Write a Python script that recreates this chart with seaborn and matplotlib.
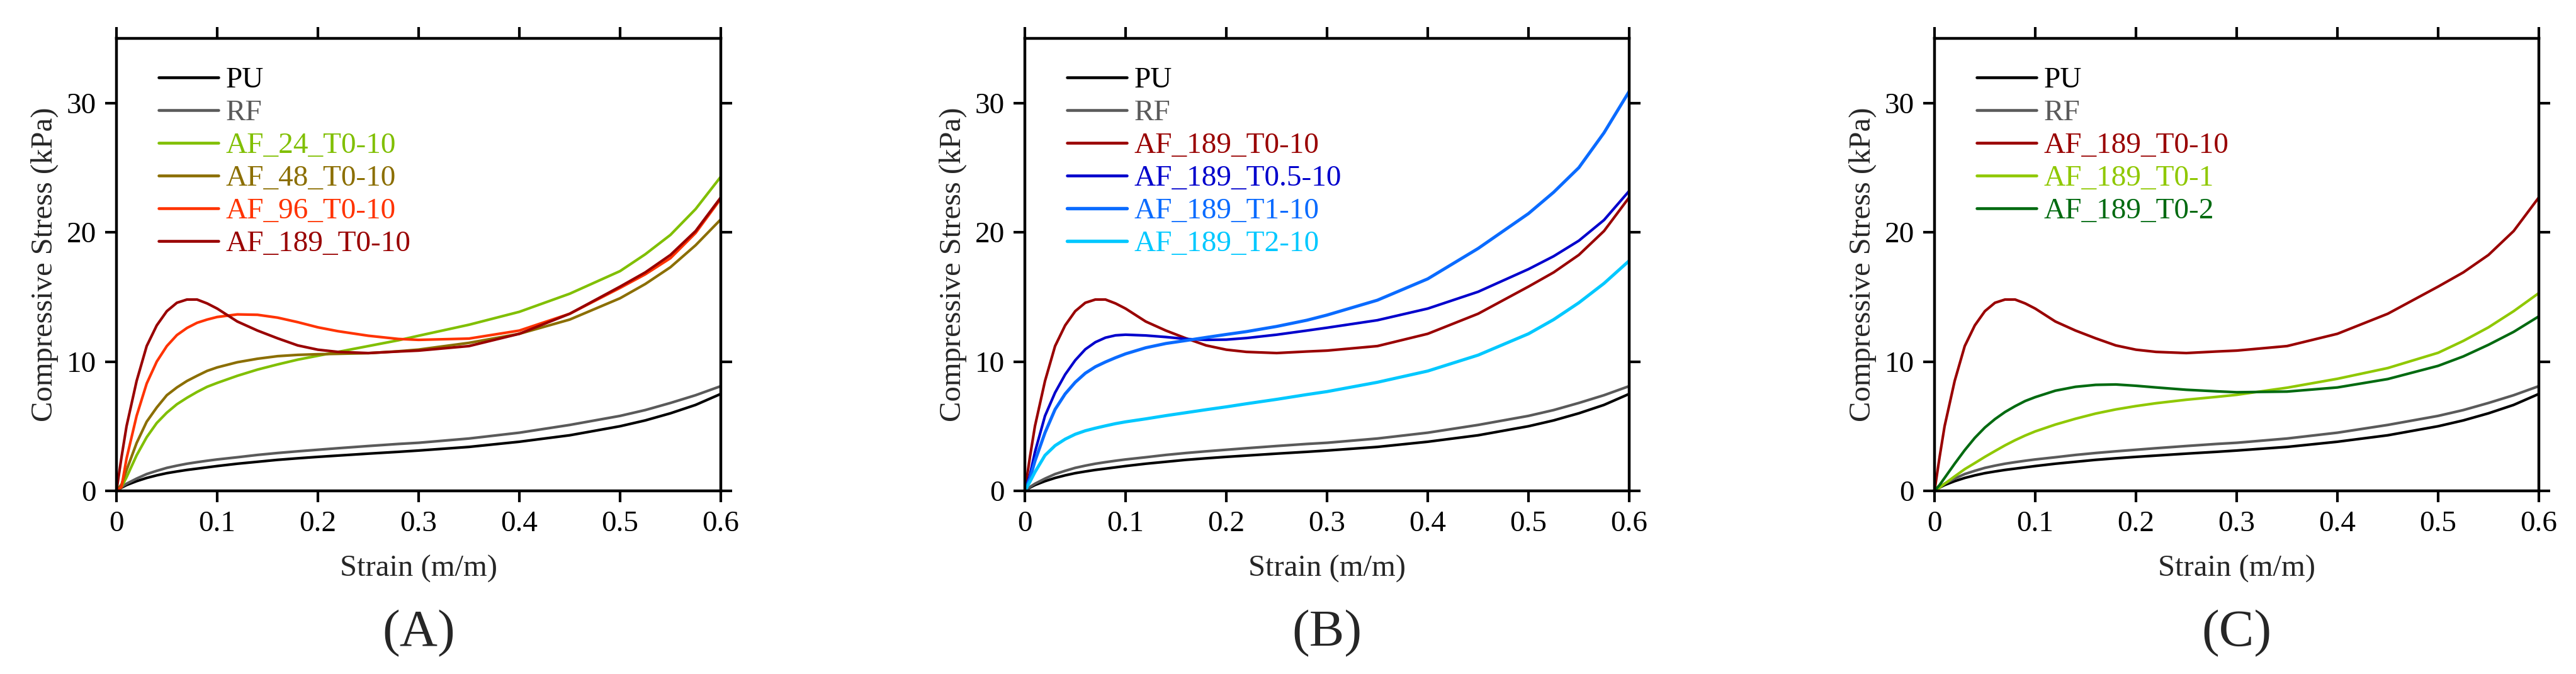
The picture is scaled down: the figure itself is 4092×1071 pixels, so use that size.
"""
Compressive stress vs strain for the PU / RF / AF foams, three panels (A)-(C)
"""

import pandas as pd
import seaborn as sns
import matplotlib.pyplot as plt

# strain grid (m/m) the curves were read on
strain = [0, 0.005, 0.01, 0.02, 0.03, 0.04, 0.05, 0.06, 0.07, 0.08, 0.09, 0.10,
          0.12, 0.14, 0.16, 0.18, 0.20, 0.22, 0.25, 0.28, 0.30, 0.35, 0.40,
          0.45, 0.50, 0.525, 0.55, 0.575, 0.60]

# compressive stress (kPa)
pu = [0, 0.25, 0.45, 0.75, 1.0, 1.2, 1.37, 1.5, 1.62, 1.72, 1.82, 1.92,
      2.1, 2.25, 2.4, 2.52, 2.63, 2.73, 2.88, 3.02, 3.12, 3.4, 3.8,
      4.3, 5.0, 5.45, 6.0, 6.65, 7.5]
rf = [0, 0.3, 0.55, 0.95, 1.3, 1.55, 1.78, 1.95, 2.1, 2.22, 2.33, 2.43,
      2.6, 2.78, 2.93, 3.06, 3.18, 3.3, 3.47, 3.63, 3.72, 4.05, 4.5,
      5.1, 5.8, 6.25, 6.8, 7.4, 8.1]
af24_t0_10 = [0, 0.3, 1.05, 2.75, 4.15, 5.25, 6.05, 6.7, 7.2, 7.65, 8.05, 8.35,
              8.9, 9.38, 9.78, 10.15, 10.45, 10.75, 11.2, 11.65, 12.0, 12.85, 13.85,
              15.25, 17.0, 18.3, 19.8, 21.8, 24.3]
af48_t0_10 = [0, 0.5, 1.6, 3.7, 5.35, 6.45, 7.4, 8.0, 8.5, 8.9, 9.28, 9.55,
              9.95, 10.22, 10.42, 10.52, 10.57, 10.6, 10.65, 10.8, 10.93, 11.45, 12.15,
              13.25, 14.9, 16.0, 17.3, 19.0, 21.0]
af96_t0_10 = [0, 0.3, 2.5, 5.8, 8.3, 10.0, 11.2, 12.05, 12.6, 13.0, 13.25, 13.45,
              13.65, 13.62, 13.4, 13.05, 12.65, 12.35, 12.0, 11.75, 11.68, 11.78, 12.4,
              13.7, 15.7, 16.75, 18.0, 19.95, 22.6]
af189_t0_10 = [0, 2.6, 5.0, 8.5, 11.2, 12.8, 13.9, 14.55, 14.8, 14.8, 14.5, 14.1,
               13.1, 12.4, 11.8, 11.25, 10.92, 10.75, 10.66, 10.78, 10.85, 11.2, 12.15,
               13.7, 15.8, 16.9, 18.25, 20.1, 22.7]
af189_t05_10 = [0, 1.2, 3.0, 5.8, 7.6, 9.0, 10.1, 10.95, 11.5, 11.85, 12.03, 12.08,
                12.02, 11.9, 11.75, 11.68, 11.7, 11.82, 12.08, 12.4, 12.62, 13.2, 14.1,
                15.4, 17.15, 18.15, 19.35, 20.95, 23.2]
af189_t1_10 = [0, 0.95, 2.3, 4.5, 6.3, 7.5, 8.4, 9.1, 9.6, 9.97, 10.3, 10.6,
               11.07, 11.4, 11.63, 11.87, 12.1, 12.32, 12.72, 13.2, 13.6, 14.75, 16.4,
               18.75, 21.45, 23.1, 25.0, 27.7, 30.9]
af189_t2_10 = [0, 0.7, 1.45, 2.75, 3.5, 4.0, 4.38, 4.65, 4.85, 5.03, 5.2, 5.34,
               5.57, 5.82, 6.05, 6.28, 6.5, 6.74, 7.08, 7.45, 7.68, 8.4, 9.27,
               10.5, 12.15, 13.25, 14.55, 16.05, 17.8]
af189_t0_1 = [0, 0.25, 0.55, 1.12, 1.68, 2.15, 2.63, 3.08, 3.52, 3.92, 4.28, 4.6,
              5.13, 5.58, 5.98, 6.3, 6.56, 6.78, 7.05, 7.27, 7.43, 7.98, 8.67,
              9.5, 10.68, 11.6, 12.65, 13.9, 15.3]
af189_t0_2 = [0, 0.45, 1.0, 2.1, 3.15, 4.1, 4.9, 5.55, 6.1, 6.55, 6.95, 7.25,
              7.75, 8.05, 8.2, 8.23, 8.13, 8.0, 7.82, 7.7, 7.63, 7.68, 8.0,
              8.65, 9.67, 10.4, 11.3, 12.3, 13.5]

series = {
    "PU": (pu, "#000000", 3.0),
    "RF": (rf, "#5a5a5a", 3.0),
    "AF_24_T0-10": (af24_t0_10, "#80bf00", 3.0),
    "AF_48_T0-10": (af48_t0_10, "#8b6e00", 3.0),
    "AF_96_T0-10": (af96_t0_10, "#ff3300", 3.0),
    "AF_189_T0-10": (af189_t0_10, "#990000", 3.0),
    "AF_189_T0.5-10": (af189_t05_10, "#0000cc", 3.0),
    "AF_189_T1-10": (af189_t1_10, "#0a6bff", 3.6),
    "AF_189_T2-10": (af189_t2_10, "#00c8ff", 3.6),
    "AF_189_T0-1": (af189_t0_1, "#8fc800", 3.0),
    "AF_189_T0-2": (af189_t0_2, "#006a10", 3.0),
}

panels = [
    ("(A)", ["PU", "RF", "AF_24_T0-10", "AF_48_T0-10", "AF_96_T0-10", "AF_189_T0-10"]),
    ("(B)", ["PU", "RF", "AF_189_T0-10", "AF_189_T0.5-10", "AF_189_T1-10", "AF_189_T2-10"]),
    ("(C)", ["PU", "RF", "AF_189_T0-10", "AF_189_T0-1", "AF_189_T0-2"]),
]

W, H = 4092, 1071
lefts = [185, 1628, 3073]
axw, bottom, top = 960, 780, 61


def draw_panel(ax, names):
    for name in names:
        vals, col, lw = series[name]
        df = pd.DataFrame({"strain": strain, "stress": vals})
        sns.lineplot(data=df, x="strain", y="stress", color=col, linewidth=lw,
                     label=name, estimator=None, ax=ax)
    ax.set_xlim(0, 0.6)
    ax.set_ylim(0, 35)
    ax.set_xticks([0, 0.1, 0.2, 0.3, 0.4, 0.5, 0.6])
    ax.set_xticklabels(["0", "0.1", "0.2", "0.3", "0.4", "0.5", "0.6"])
    ax.set_yticks([0, 10, 20, 30])
    ax.set_xlabel("Strain (m/m)", fontsize=35, labelpad=20)
    ax.set_ylabel("Compressive Stress (kPa)", fontsize=35, labelpad=9)
    ax.tick_params(axis="both", which="major", direction="out", length=13, width=3.0,
                   color="black", top=True, right=True, labelsize=34)
    ax.tick_params(axis="x", pad=10)
    ax.tick_params(axis="y", pad=10)
    for sp in ax.spines.values():
        sp.set_linewidth(3.2)
        sp.set_color("black")
        sp.set_visible(True)
    leg = ax.legend(loc="upper left", bbox_to_anchor=(0.07, 0.937), frameon=False,
                    fontsize=34, handlelength=2.0, handletextpad=0.25,
                    labelspacing=0.19, borderpad=0, borderaxespad=0,
                    labelcolor="linecolor")
    for line, name in zip(leg.get_lines(), names):
        line.set_linewidth(series[name][2] + 0.3)


def main():
    sns.set_theme(style="ticks")
    plt.rcParams["font.family"] = ["Liberation Serif", "DejaVu Serif"]
    plt.rcParams.update({
        "axes.edgecolor": "black",
        "axes.linewidth": 3.2,
        "xtick.color": "black",
        "ytick.color": "black",
        "xtick.direction": "out",
        "ytick.direction": "out",
        "xtick.major.size": 13,
        "ytick.major.size": 13,
        "xtick.major.width": 3.0,
        "ytick.major.width": 3.0,
        "xtick.top": True,
        "ytick.right": True,
    })

    fig = plt.figure(figsize=(W / 100, H / 100), dpi=100)
    for (letter, names), left in zip(panels, lefts):
        ax = fig.add_axes([left / W, 1 - bottom / H, axw / W, (bottom - top) / H])
        draw_panel(ax, names)
        fig.text((left + axw / 2) / W, 1 - 1007 / H, letter, fontsize=60,
                 ha="center", va="center")

    fig.savefig("out.png", dpi=100)


if __name__ == "__main__":
    main()
